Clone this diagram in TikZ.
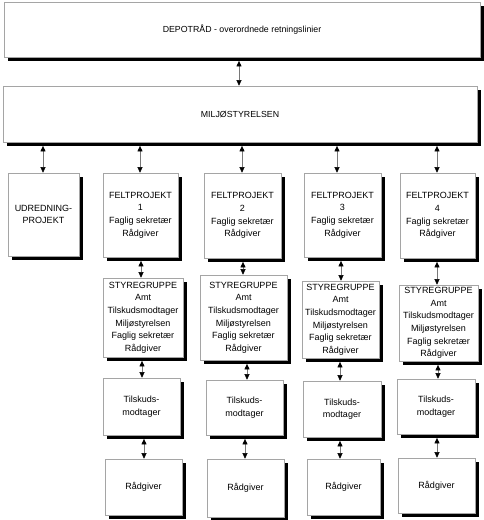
\documentclass[tikz,border=0pt]{standalone}
\usepackage{fontspec}
\setmainfont{Liberation Sans}
\usetikzlibrary{shadows,arrows.meta}
\definecolor{boxgray}{RGB}{165,165,165}
\definecolor{linegray}{RGB}{120,120,120}
\tikzset{
  box/.style={draw=boxgray, line width=0.6pt, fill=white, inner sep=0pt, align=center,
    font=\fontsize{9}{12.6}\selectfont,
    drop shadow={shadow xshift=3.6pt, shadow yshift=-3.6pt, fill=black, opacity=1}},
  bx/.style n args={2}{minimum width=#1pt, minimum height=#2pt},
  arr/.style={draw=linegray, line width=0.5pt,
    {Triangle[width=5pt,length=5.5pt,color=black]}-{Triangle[width=5pt,length=5.5pt,color=black]},
    shorten <=3.6pt}
}
\begin{document}
\begin{tikzpicture}[x=1pt,y=-1pt]
\useasboundingbox (0,0) rectangle (483,520);
% top boxes
\node[box, bx={476}{55}, font=\fontsize{8.8}{12}\selectfont] (dep) at (242,29.5) {DEPOTRÅD - overordnede retningslinier};
\node[box, bx={474}{56}, font=\fontsize{8.8}{12}\selectfont] (mil) at (240,114) {MILJØSTYRELSEN};
% row 2
\node[box, bx={71}{83}] (udr) at (43.5,214.5) {UDREDNING-\\PROJEKT};
\node[box, bx={75}{84}] (fp1) at (140.5,215) {FELTPROJEKT\\1\\Faglig sekretær\\Rådgiver};
\node[box, bx={77}{85}] (fp2) at (242.5,215.5) {FELTPROJEKT\\2\\Faglig sekretær\\Rådgiver};
\node[box, bx={77}{84}] (fp3) at (342.5,215) {FELTPROJEKT\\3\\Faglig sekretær\\Rådgiver};
\node[box, bx={75}{85}] (fp4) at (437.5,215.5) {FELTPROJEKT\\4\\Faglig sekretær\\Rådgiver};
% row 3
\node[box, bx={80}{79}] (st1) at (143,317.5) {STYREGRUPPE\\Amt\\Tilskudsmodtager\\Miljøstyrelsen\\Faglig sekretær\\Rådgiver};
\node[box, bx={87}{85}] (st2) at (243.5,317.5) {STYREGRUPPE\\Amt\\Tilskudsmodtager\\Miljøstyrelsen\\Faglig sekretær\\Rådgiver};
\node[box, bx={77}{77}] (st3) at (340.5,319.5) {STYREGRUPPE\\Amt\\Tilskudsmodtager\\Miljøstyrelsen\\Faglig sekretær\\Rådgiver};
\node[box, bx={79}{76}] (st4) at (438.5,323) {STYREGRUPPE\\Amt\\Tilskudsmodtager\\Miljøstyrelsen\\Faglig sekretær\\Rådgiver};
% row 4
\node[box, bx={77}{57}] (tk1) at (141.5,406.5) {Tilskuds-\\modtager};
\node[box, bx={77}{55}] (tk2) at (244.5,407.5) {Tilskuds-\\modtager};
\node[box, bx={78}{56}] (tk3) at (342,409) {Tilskuds-\\modtager};
\node[box, bx={78}{55}] (tk4) at (436,406.5) {Tilskuds-\\modtager};
% row 5
\node[box, bx={77}{56}] (rg1) at (143.5,487) {Rådgiver};
\node[box, bx={77}{58}] (rg2) at (245.5,488) {Rådgiver};
\node[box, bx={73}{56}] (rg3) at (343.5,487) {Rådgiver};
\node[box, bx={77}{55}] (rg4) at (436.5,485.5) {Rådgiver};
% x positions of connectors
\coordinate (a0) at (239,0);
\coordinate (b0) at (43,0);
\coordinate (b1) at (140,0);
\coordinate (b2) at (242,0);
\coordinate (b3) at (337,0);
\coordinate (b4) at (437,0);
\coordinate (c1) at (141,0);
\coordinate (c2) at (243,0);
\coordinate (c3) at (341,0);
\coordinate (c4) at (437,0);
\coordinate (d1) at (142,0);
\coordinate (d2) at (247,0);
\coordinate (d3) at (340,0);
\coordinate (d4) at (438,0);
\coordinate (e1) at (144,0);
\coordinate (e2) at (245,0);
\coordinate (e3) at (340,0);
\coordinate (e4) at (437,0);
% connectors
\draw[arr] (dep.south -| a0) -- (mil.north -| a0);
\draw[arr] (mil.south -| b0) -- (udr.north -| b0);
\draw[arr] (mil.south -| b1) -- (fp1.north -| b1);
\draw[arr] (mil.south -| b2) -- (fp2.north -| b2);
\draw[arr] (mil.south -| b3) -- (fp3.north -| b3);
\draw[arr] (mil.south -| b4) -- (fp4.north -| b4);
\draw[arr] (fp1.south -| c1) -- (st1.north -| c1);
\draw[arr] (fp2.south -| c2) -- (st2.north -| c2);
\draw[arr] (fp3.south -| c3) -- (st3.north -| c3);
\draw[arr] (fp4.south -| c4) -- (st4.north -| c4);
\draw[arr] (st1.south -| d1) -- (tk1.north -| d1);
\draw[arr] (st2.south -| d2) -- (tk2.north -| d2);
\draw[arr] (st3.south -| d3) -- (tk3.north -| d3);
\draw[arr] (st4.south -| d4) -- (tk4.north -| d4);
\draw[arr] (tk1.south -| e1) -- (rg1.north -| e1);
\draw[arr] (tk2.south -| e2) -- (rg2.north -| e2);
\draw[arr] (tk3.south -| e3) -- (rg3.north -| e3);
\draw[arr] (tk4.south -| e4) -- (rg4.north -| e4);
\end{tikzpicture}
\end{document}
